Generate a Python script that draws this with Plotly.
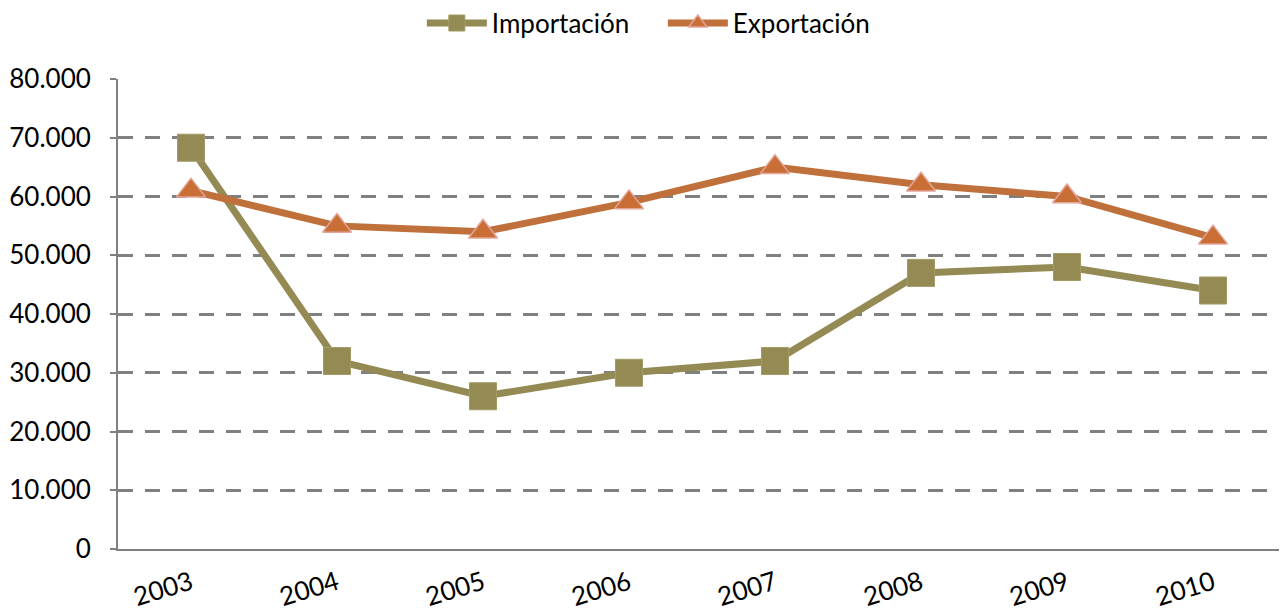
"""
Importación vs. Exportación, 2003-2010, como gráfico de líneas con marcadores.
"""
import plotly.graph_objects as go

# --------------------------------------------------------------------------
# Datos
# --------------------------------------------------------------------------
years = ["2003", "2004", "2005", "2006", "2007", "2008", "2009", "2010"]
importacion = [68300, 32000, 26000, 30000, 32000, 47000, 48000, 44000]
exportacion = [61000, 55000, 54000, 59000, 65000, 62000, 60000, 53000]
y_ticks = [0, 10000, 20000, 30000, 40000, 50000, 60000, 70000, 80000]

# --------------------------------------------------------------------------
# Estilo
# --------------------------------------------------------------------------
IMPORT_COLOR = "#948A54"
EXPORT_COLOR = "#C0703A"
GRID_COLOR = "#808080"
FONT = "Lato, 'Open Sans', sans-serif"

fig = go.Figure()

fig.add_trace(go.Scatter(
    x=years,
    y=importacion,
    name="Importación",
    mode="lines+markers",
    line={"color": IMPORT_COLOR, "width": 7},
    marker={"symbol": "square", "size": 27, "color": IMPORT_COLOR,
            "line": {"color": "#A39A64", "width": 1}},
))

fig.add_trace(go.Scatter(
    x=years,
    y=exportacion,
    name="Exportación",
    mode="lines+markers",
    line={"color": EXPORT_COLOR, "width": 7},
    marker={"symbol": "triangle-up", "size": 25, "color": "#C96F36",
            "line": {"color": "#E3A49A", "width": 1.5}},
))

# The page body adds an 8px margin, so the figure is 8px smaller than the window
fig.update_layout(
    width=1279,
    height=605,
    margin={"l": 110, "r": 1, "t": 71, "b": 64},
    paper_bgcolor="white",
    plot_bgcolor="white",
    separators=",.",
    font={"family": FONT, "size": 26, "color": "#000000"},
    showlegend=True,
    legend={
        "orientation": "h",
        "x": 0.512,
        "xref": "container",
        "xanchor": "center",
        "y": 0.975,
        "yanchor": "middle",
        "yref": "container",
        "font": {"size": 26},
        "itemwidth": 60,
        "entrywidth": 166,
        "traceorder": "normal",
    },
    xaxis={
        "type": "category",
        "range": [-0.5, 7.5],
        "automargin": False,
        "showgrid": False,
        "showline": True,
        "linecolor": GRID_COLOR,
        "linewidth": 2,
        "ticks": "",
        "tickangle": -17,
        "tickfont": {"size": 26},
        "ticklabelstandoff": 7,
    },
    yaxis={
        "range": [0, 80000],
        "automargin": False,
        "tickvals": y_ticks,
        "tickformat": ",d",
        "showgrid": True,
        "gridcolor": GRID_COLOR,
        "gridwidth": 3,
        "griddash": "15px,12px",
        "showline": True,
        "linecolor": GRID_COLOR,
        "linewidth": 2,
        "ticks": "outside",
        "ticklen": 6,
        "tickwidth": 2,
        "tickcolor": GRID_COLOR,
        "zeroline": False,
        "tickfont": {"size": 26},
        "ticklabelstandoff": 14,
    },
)

fig.write_html("out.html")
